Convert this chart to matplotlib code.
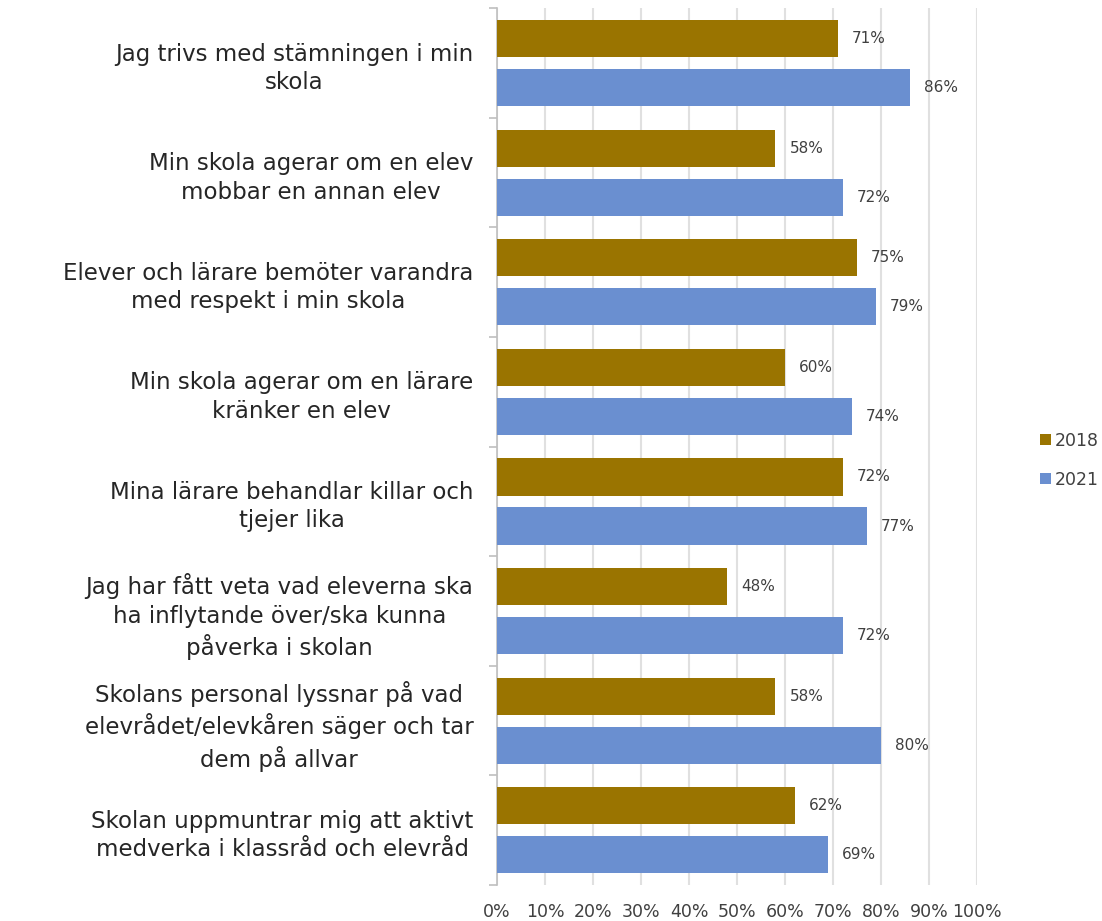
import numpy as np
import matplotlib.pyplot as plt

categories = [
    "Jag trivs med stämningen i min\nskola",
    "Min skola agerar om en elev\nmobbar en annan elev",
    "Elever och lärare bemöter varandra\nmed respekt i min skola",
    "Min skola agerar om en lärare\nkränker en elev",
    "Mina lärare behandlar killar och\ntjejer lika",
    "Jag har fått veta vad eleverna ska\nha inflytande över/ska kunna\npåverka i skolan",
    "Skolans personal lyssnar på vad\nelevrådet/elevkåren säger och tar\ndem på allvar",
    "Skolan uppmuntrar mig att aktivt\nmedverka i klassråd och elevråd",
]
values_2018 = [71, 58, 75, 60, 72, 48, 58, 62]
values_2021 = [86, 72, 79, 74, 77, 72, 80, 69]
series_labels = ["2018", "2021"]
colors = ["#9A7400", "#6A8FD0"]

fig = plt.figure(figsize=(11.02, 9.21), dpi=100)
ax = fig.add_axes([0.451, 0.039, 0.4356, 0.952])

y = np.arange(len(categories))
h = 0.34
off = 0.224
bars_a = ax.barh(y - off, values_2018, height=h, color=colors[0], label=series_labels[0], zorder=3)
bars_b = ax.barh(y + off, values_2021, height=h, color=colors[1], label=series_labels[1], zorder=3)

for bars, vals in ((bars_a, values_2018), (bars_b, values_2021)):
    for b, v in zip(bars, vals):
        ax.annotate(f"{v}%", (v, b.get_y() + b.get_height() / 2),
                    xytext=(14, 0), textcoords="offset pixels",
                    va="center", ha="left", fontsize=11, color="#404040")

ax.set_xlim(0, 100)
ax.set_ylim(len(categories) - 0.5, -0.5)
ax.set_xticks(np.arange(0, 101, 10))
ax.set_xticklabels([f"{t}%" for t in range(0, 101, 10)], fontsize=12.5, color="#404040")
ax.tick_params(axis="x", length=0, pad=13)

ax.set_yticks(y)
ax.set_yticklabels(categories, fontsize=16.5, color="#262626", multialignment="center",
                   linespacing=1.3)
ax.tick_params(axis="y", length=0, pad=17)
# short ticks at category boundaries
ax.set_yticks(np.arange(-0.5, len(categories)), minor=True)
ax.tick_params(axis="y", which="minor", length=6, color="#bfbfbf", width=1.2)

ax.grid(axis="x", color="#e0e0e0", linewidth=1.5, zorder=0)
for s in ("top", "right", "bottom"):
    ax.spines[s].set_visible(False)
ax.spines["left"].set_color("#bfbfbf")
ax.spines["left"].set_linewidth(1.2)

fig.legend(handles=[bars_a, bars_b], labels=series_labels, loc="center left",
           bbox_to_anchor=(0.93, 0.5), frameon=False, fontsize=12.5,
           handlelength=0.6, handleheight=0.6, handletextpad=0.2, labelspacing=1.2,
           labelcolor="#404040")

fig.savefig("out.png", dpi=100)
